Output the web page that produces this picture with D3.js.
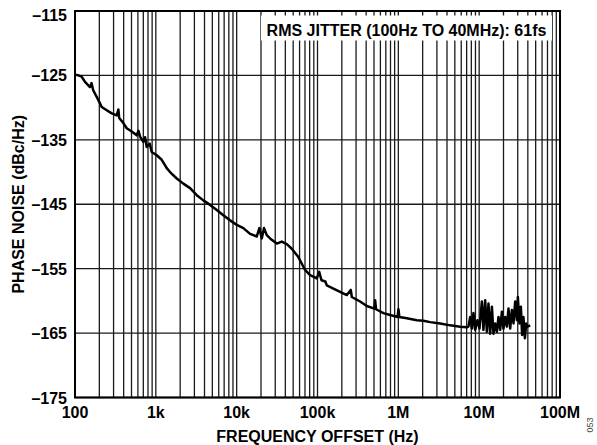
<!DOCTYPE html>
<html>
<head>
<meta charset="utf-8">
<script src="https://cdn.jsdelivr.net/npm/d3@7"></script>
<style>
  html, body { margin: 0; padding: 0; background: #fff; }
  svg text { font-family: "Liberation Sans", Arial, sans-serif; font-weight: bold; fill: #000; }
</style>
</head>
<body>
<svg id="chart" width="597" height="445"></svg>
<script>
// ---- data ----
const xTickValues = [100, 1e3, 1e4, 1e5, 1e6, 1e7, 1e8];
const xTickLabels = ["100", "1k", "10k", "100k", "1M", "10M", "100M"];
const yTickValues = [-115, -125, -135, -145, -155, -165, -175];
const yTickLabels = ["–115", "–125", "–135", "–145", "–155", "–165", "–175"];
const annotation = "RMS JITTER (100Hz TO 40MHz): 61fs";
const xTitle = "FREQUENCY OFFSET (Hz)";
const yTitle = "PHASE NOISE (dBc/Hz)";
const figId = "053";

// frequency offset (Hz) and phase noise (dBc/Hz)
const freq = [
  103, 110, 121, 133, 145, 153, 160, 168, 194, 214, 247, 285, 328, 344, 352, 396, 436, 503, 580, 610, 638, 700, 735,
  772, 840, 890, 1026, 1183, 1364, 1499, 1814, 2190, 2650, 3210, 3870, 4690, 5670, 6840, 8280, 10030,
  12100, 14650, 17740, 19100, 20440, 21800, 23580, 25900, 31350, 36150, 41700, 48080, 58000, 70200,
  81000, 98000, 105000, 112000, 125000, 130300, 157300, 190400, 230500, 258000, 265800, 336600, 407400,
  505000, 516000, 530000, 654000, 791500, 980000, 1003000, 1030000, 1274000, 1694000, 2045000, 2475000,
  3290000, 4375000, 5820000, 7050000,
  7.37e6, 7.74e6, 8.12e6, 8.50e6, 8.92e6, 9.53e6, 10.09e6, 10.8e6, 11.3e6, 11.87e6, 12.45e6, 13.04e6,
  13.68e6, 14.37e6, 15.03e6, 15.78e6, 16.56e6, 17.34e6, 18.19e6, 19.1e6, 19.98e6, 20.98e6, 22.02e6,
  23.05e6, 24.2e6, 25.4e6, 26.6e6, 27.9e6, 29.3e6, 30.1e6, 31.5e6, 32.8e6, 34.0e6, 35.3e6, 36.8e6,
  38.2e6, 39.6e6, 42.8e6
];
const noise = [
  -124.9, -125.0, -125.2, -126.0, -126.5, -126.8, -126.2, -127.3, -128.8, -129.9, -130.4, -130.9, -131.2, -130.3, -131.6, -132.4, -133.2, -133.7, -134.3, -133.6, -134.5, -135.3, -134.6,
  -136.1, -135.6, -136.9, -137.4, -138.1, -139.4, -140.0, -141.0, -141.8, -142.5, -143.6, -144.4, -145.1, -145.9, -146.7, -147.5, -148.2,
  -148.7, -149.6, -150.0, -148.7, -150.3, -148.7, -149.8, -150.3, -151.1, -150.8, -151.2, -151.9, -153.2, -155.2,
  -156.0, -156.5, -155.5, -156.8, -157.0, -157.6, -158.1, -158.6, -159.1, -158.3, -159.4, -160.1, -160.8,
  -161.2, -159.9, -161.3, -161.9, -162.2, -162.5, -161.3, -162.5, -162.7, -163.0, -163.1, -163.3,
  -163.5, -163.8, -164.0, -164.1,
  -164.0, -162.5, -164.3, -161.9, -164.5, -163.0, -164.3, -160.1, -164.5, -159.9, -164.8, -160.4,
  -165.1, -160.9, -165.1, -163.5, -164.8, -162.5, -164.5, -161.7, -164.3, -162.5, -164.0,
  -161.2, -164.3, -161.4, -163.5, -160.1, -163.0, -159.4, -163.5, -160.9, -165.3, -162.5, -165.8,
  -163.5, -164.0, -163.8
];

// ---- layout ----
const svg = d3.select("#chart");
const mLeft = 75, mRight = 560, mTop = 11, mBottom = 397.5;

const x = d3.scaleLog().domain([100, 1e8]).range([mLeft, mRight]);
const y = d3.scaleLinear().domain([-175, -115]).range([mBottom, mTop]);

// minor + major vertical grid
const gridX = [];
for (let d = 100; d < 1e8; d *= 10) for (let m = 1; m <= 9; m++) gridX.push(d * m);
gridX.push(1e8);

const g = svg.append("g");
g.selectAll("line.vx").data(gridX).enter().append("line")
  .attr("x1", d => x(d)).attr("x2", d => x(d))
  .attr("y1", mTop).attr("y2", mBottom)
  .attr("stroke", "#1a1a1a").attr("stroke-width", 1.3);

g.selectAll("line.hy").data(yTickValues).enter().append("line")
  .attr("x1", mLeft).attr("x2", mRight)
  .attr("y1", d => y(d)).attr("y2", d => y(d))
  .attr("stroke", "#1a1a1a").attr("stroke-width", 1.3);

// annotation box
const annoCx = 406.5;
g.append("rect").attr("x", 261).attr("y", 15.5).attr("width", 291).attr("height", 25)
  .attr("fill", "#fff");
g.append("text").attr("x", annoCx).attr("y", 35.5).attr("text-anchor", "middle")
  .style("font-size", "16px").text(annotation);

// data line
const line = d3.line().x((d, i) => x(freq[i])).y(d => y(d));
g.append("path").datum(noise).attr("d", line)
  .attr("fill", "none").attr("stroke", "#000").attr("stroke-width", 2.5)
  .attr("stroke-linejoin", "round");

// frame
g.append("rect").attr("x", mLeft).attr("y", mTop).attr("width", mRight - mLeft).attr("height", mBottom - mTop)
  .attr("fill", "none").attr("stroke", "#000").attr("stroke-width", 2);

// tick labels
svg.selectAll("text.xt").data(xTickValues).enter().append("text")
  .attr("x", d => x(d)).attr("y", 418).attr("text-anchor", "middle")
  .style("font-size", "16px").text((d, i) => xTickLabels[i]);

svg.selectAll("text.yt").data(yTickValues).enter().append("text")
  .attr("x", 67).attr("y", (d, i) => y(d) + (i === 0 ? 9.5 : 6))
  .attr("text-anchor", "end")
  .style("font-size", "16px").text((d, i) => yTickLabels[i]);

// axis titles
svg.append("text").attr("x", (mLeft + mRight) / 2).attr("y", 442).attr("text-anchor", "middle")
  .style("font-size", "16px").text(xTitle);
svg.append("text").attr("transform", `translate(24,${(mTop + mBottom) / 2}) rotate(-90)`)
  .attr("text-anchor", "middle").style("font-size", "16px").text(yTitle);

svg.append("text").attr("transform", "translate(593,425) rotate(-90)")
  .attr("text-anchor", "middle").style("font-size", "9px").style("font-weight", "normal")
  .style("fill", "#444").text(figId);
</script>
</body>
</html>
